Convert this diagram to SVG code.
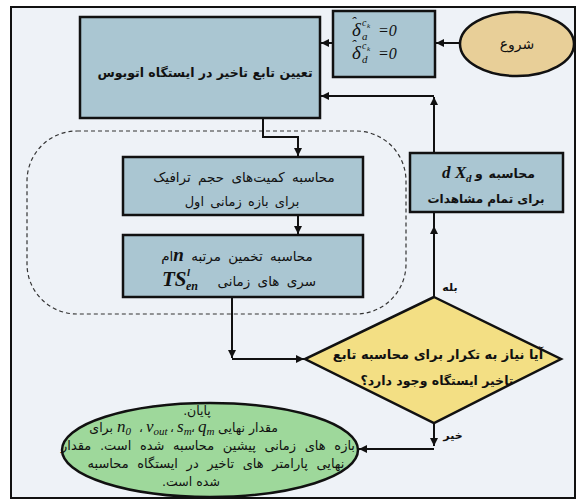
<svg xmlns="http://www.w3.org/2000/svg" width="577" height="500" viewBox="0 0 577 500">
<defs>
<marker id="ah" viewBox="0 0 10 10" refX="10" refY="5" markerWidth="8" markerHeight="8" markerUnits="userSpaceOnUse" orient="auto"><path d="M0,0 L10,5 L0,10 z" fill="#111"/></marker>
<style>
.box{fill:#aac6d2;stroke:#111;stroke-width:2.5}
.con{fill:none;stroke:#111;stroke-width:2}
.arr{marker-end:url(#ah)}
.fa{font-family:"DejaVu Sans",sans-serif;fill:#111}
.fab{font-family:"DejaVu Sans",sans-serif;font-weight:bold;fill:#111}
.m{font-family:"Liberation Serif","DejaVu Serif",serif;font-style:italic;fill:#111}
.mb{font-family:"Liberation Serif","DejaVu Serif",serif;font-style:italic;font-weight:bold;fill:#111}
</style>
</defs>
<rect x="11" y="7" width="564" height="491" fill="#eef2f7" stroke="#111" stroke-width="2"/>
<rect id="group-dashed" x="27" y="131" width="379" height="183" rx="50" ry="50" fill="none" stroke="#333" stroke-width="1.2" stroke-dasharray="4 3"/>

<g id="connectors">
<path class="con arr" d="M460,43 H436"/>
<path class="con arr" d="M333,43 H321"/>
<path class="con arr" d="M263,118 V137 H298 V156"/>
<path class="con arr" d="M298,215 V234"/>
<path class="con arr" d="M232,297 V358"/>
<path class="con arr" d="M232,359 H304"/>
<path class="con arr" d="M434,297 V226"/>
<path class="con" d="M434,228 V212"/>
<path class="con arr" d="M434,153 V97"/>
<path class="con arr" d="M434,96 H321"/>
<path class="con arr" d="M434,423 V446"/>
<path class="con arr" d="M434,449 H359"/>
</g>

<g id="start">
<ellipse cx="517" cy="44" rx="57" ry="32" fill="#e8cf98" stroke="#111" stroke-width="2.5"/>
<text class="fa" x="517" y="49" text-anchor="middle" direction="rtl" font-size="14">شروع</text>
</g>

<g id="init">
<rect class="box" x="333" y="11" width="102" height="66"/>
<text class="m" font-size="19"><tspan x="352" y="36">δ</tspan><tspan x="351" y="27" font-size="15">ˆ</tspan><tspan x="362" y="26" font-size="10">c</tspan><tspan x="367" y="28" font-size="7">k</tspan><tspan x="362" y="40" font-size="11">a</tspan><tspan x="378" y="36" font-size="16">=0</tspan></text>
<text class="m" font-size="19"><tspan x="352" y="59">δ</tspan><tspan x="351" y="50" font-size="15">ˆ</tspan><tspan x="362" y="49" font-size="10">c</tspan><tspan x="367" y="51" font-size="7">k</tspan><tspan x="362" y="63" font-size="11">d</tspan><tspan x="378" y="59" font-size="16">=0</tspan></text>
</g>

<g id="main">
<rect class="box" x="80" y="17" width="240" height="101"/>
<text class="fab" x="205" y="77" text-anchor="middle" direction="rtl" font-size="12.5">تعیین تابع تاخیر در ایستگاه اتوبوس</text>
</g>

<g id="traffic">
<rect class="box" x="123" y="157" width="240" height="58"/>
<text class="fa" x="244" y="182" text-anchor="middle" direction="rtl" font-size="13.5" word-spacing="3">محاسبه کمیت‌های حجم ترافیک</text>
<text class="fa" x="242" y="206" text-anchor="middle" direction="rtl" font-size="13" word-spacing="2">برای بازه زمانی اول</text>
</g>

<g id="estimate">
<rect class="box" x="123" y="235" width="240" height="62"/>
<text class="fa" x="237" y="261" text-anchor="middle" direction="rtl" font-size="13.5" word-spacing="3">محاسبه تخمین مرتبه <tspan class="mb" font-size="19">n</tspan>ام</text>
<text class="mb" font-size="21"><tspan x="162" y="286">TS</tspan><tspan x="187" y="276" font-size="11">l</tspan><tspan x="186" y="290" font-size="12">en</tspan></text>
<text class="fa" x="316" y="286" text-anchor="end" font-size="13.5" word-spacing="3">سری های زمانی</text>
</g>

<g id="compute-x">
<rect class="box" x="410" y="153" width="153" height="59"/>
<text class="mb" font-size="17"><tspan x="442" y="178">d</tspan><tspan x="455" y="178">X</tspan><tspan x="466" y="182" font-size="11">d</tspan></text>
<text class="fab" x="475" y="178" font-size="12.5">و</text>
<text class="fab" x="535" y="178" text-anchor="end" font-size="12.5">محاسبه</text>
<text class="fab" x="486" y="203" text-anchor="middle" direction="rtl" font-size="12">برای تمام مشاهدات</text>
</g>

<g id="decision">
<polygon points="434,297 561,359 434,423 305,359" fill="#f3df84" stroke="#111" stroke-width="2.5"/>
<text class="fab" x="438" y="359" text-anchor="middle" direction="rtl" font-size="13">آیا نیاز به تکرار برای محاسبه تابع</text>
<text class="fab" x="437" y="385" text-anchor="middle" direction="rtl" font-size="12.5">تاخیر ایستگاه وجود دارد؟</text>
</g>

<text class="fab" x="450" y="291" text-anchor="middle" direction="rtl" font-size="11">بله</text>
<text class="fab" x="453" y="439" text-anchor="middle" direction="rtl" font-size="11">خیر</text>

<g id="end">
<ellipse cx="210" cy="450" rx="148" ry="47" fill="#9ed89b" stroke="#111" stroke-width="2.5"/>
<text class="fa" x="197" y="415" text-anchor="middle" direction="rtl" font-size="12.5">پایان.</text>
<text class="fa" x="278" y="432" text-anchor="end" font-size="12.5">مقدار نهایی</text>
<text class="m" x="198" y="432" font-size="17">q<tspan font-size="11" dy="3">m</tspan></text>
<text class="fa" x="191" y="432" font-size="12">،</text>
<text class="m" x="177" y="432" font-size="17">s<tspan font-size="11" dy="3">m</tspan></text>
<text class="fa" x="170" y="432" font-size="12">،</text>
<text class="m" x="146" y="432" font-size="17">v<tspan font-size="11" dy="3">out</tspan></text>
<text class="fa" x="139" y="432" font-size="12">،</text>
<text class="m" x="117" y="432" font-size="17">n<tspan font-size="11" dy="3">0</tspan></text>
<text class="fa" x="113" y="432" text-anchor="end" font-size="12.5">برای</text>
<text class="fa" x="208" y="450" text-anchor="middle" direction="rtl" font-size="13" word-spacing="4.5">بازه های زمانی پیشین  محاسبه شده است. مقدار</text>
<text class="fa" x="216" y="468" text-anchor="middle" direction="rtl" font-size="13" word-spacing="4.5">نهایی پارامتر های تاخیر در ایستگاه محاسبه</text>
<text class="fa" x="191" y="486" text-anchor="middle" direction="rtl" font-size="12.5">شده است.</text>
</g>
</svg>
